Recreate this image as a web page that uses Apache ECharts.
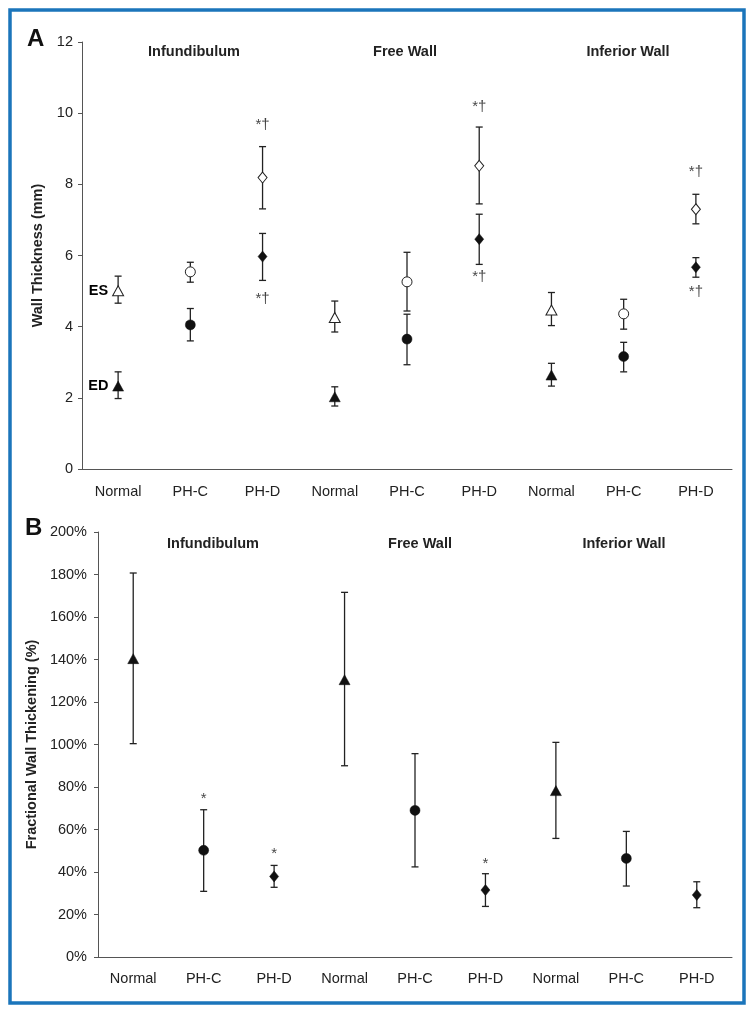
<!DOCTYPE html>
<html>
<head>
<meta charset="utf-8">
<script src="https://cdn.jsdelivr.net/npm/echarts@6/dist/echarts.min.js"></script>
<style>
html,body{margin:0;padding:0;background:#fff;}
#chart{width:756px;height:1015px;}
</style>
</head>
<body>
<div id="chart"></div>
<script>
// ---- data ----
const categories = ['Normal','PH-C','PH-D','Normal','PH-C','PH-D','Normal','PH-C','PH-D'];
const groupTitles = ['Infundibulum','Free Wall','Inferior Wall'];
const yTicksA = [0,2,4,6,8,10,12];
const yTicksB = [0,20,40,60,80,100,120,140,160,180,200];

// Panel A: wall thickness (mm)
const esMean = [5.01, 5.54, 8.19, 4.26, 5.26, 8.52, 4.47, 4.36, 7.30];
const esLow  = [4.66, 5.25, 7.31, 3.85, 4.44, 7.45, 4.03, 3.93, 6.89];
const esHigh = [5.42, 5.81, 9.06, 4.72, 6.09, 9.61, 4.96, 4.77, 7.72];
const edMean = [2.33, 4.05, 5.97, 2.03, 3.65, 6.46, 2.64, 3.16, 5.67];
const edLow  = [1.98, 3.60, 5.30, 1.77, 2.93, 5.75, 2.33, 2.73, 5.39];
const edHigh = [2.73, 4.51, 6.62, 2.31, 4.35, 7.16, 2.97, 3.56, 5.94];
const sigAboveA = [null, null, 9.67, null, null, 10.18, null, null, 8.36];
const sigBelowA = [null, null, 4.78, null, null, 5.39, null, null, 4.97];

// Panel B: fractional wall thickening (%)
const fwtMean = [140.4, 50.2, 37.9, 130.5, 69.0, 31.5, 78.3, 46.4, 29.2];
const fwtLow  = [100.4, 30.9, 32.8, 90.0, 42.4, 23.8, 55.8, 33.4, 23.2];
const fwtHigh = [180.7, 69.3, 43.1, 171.6, 95.7, 39.2, 101.0, 59.1, 35.4];
const sigB    = [null, 74.3, 48.6, null, null, 43.9, null, null, null];

// ---- chart ----
const FONT = '"Liberation Sans", Arial, sans-serif';
const symbolFor = {'Normal':'triangle','PH-C':'circle','PH-D':'diamond'};
const sizeFor = {'Normal':[11,10],'PH-C':[10,10],'PH-D':[9,11]};

function markerData(vals, extra) {
  return vals.map((v,i) => Object.assign({
    value:[i, v],
    symbol: symbolFor[categories[i]],
    symbolSize: sizeFor[categories[i]]
  }, extra ? extra(i) : {}));
}
function errData(lo, hi) {
  return lo.map((l,i) => [i, l, hi[i]]);
}
function errRender(params, api) {
  const x = api.value(0);
  const p1 = api.coord([x, api.value(1)]);
  const p2 = api.coord([x, api.value(2)]);
  const w = 3.5;
  const st = {stroke:'#222', lineWidth:1.3};
  return {type:'group', children:[
    {type:'line', shape:{x1:p1[0],y1:p1[1],x2:p2[0],y2:p2[1]}, style:st},
    {type:'line', shape:{x1:p1[0]-w,y1:p1[1],x2:p1[0]+w,y2:p1[1]}, style:st},
    {type:'line', shape:{x1:p2[0]-w,y1:p2[1],x2:p2[0]+w,y2:p2[1]}, style:st}
  ]};
}
function sigData(vals) {
  const out = [];
  vals.forEach((v,i) => { if (v != null) out.push([i, v]); });
  return out;
}
function sigSeries(vals, text, xi, yi) {
  return {
    type:'scatter', xAxisIndex:xi, yAxisIndex:yi, symbolSize:1,
    itemStyle:{color:'rgba(0,0,0,0)'},
    data: sigData(vals),
    label:{show:true, position:'inside', formatter:text, color:'#111',
      fontSize:15, fontFamily:FONT},
    silent:true, z:5
  };
}
const sideLabel = (t) => ({label:{show:true, position:'left', distance:4, formatter:t,
  fontWeight:'bold', fontSize:14.5, color:'#000', opacity:1, fontFamily:FONT}});

const xAxisCommon = {
  type:'category', data:categories, boundaryGap:true,
  axisLine:{lineStyle:{color:'#555', width:1}},
  axisTick:{show:false},
  axisLabel:{color:'#222', fontSize:14.5, fontFamily:FONT, interval:0},
  splitLine:{show:false}
};
const yAxisCommon = {
  type:'value',
  axisLine:{show:true, lineStyle:{color:'#555', width:1}},
  axisTick:{show:true, length:4, lineStyle:{color:'#555'}},
  splitLine:{show:false},
  nameLocation:'middle',
  nameTextStyle:{fontWeight:'bold', fontSize:14.5, color:'#222', fontFamily:FONT}
};

const titleText = (t, x, y) => ({
  type:'text', x:x, y:y,
  style:{text:t, font:'bold 14.5px ' + FONT, fill:'#222', align:'center', verticalAlign:'middle'}
});

const option = {
  animation:false,
  backgroundColor:'#fff',
  grid:[
    {left:82, right:24, top:42, height:427},
    {left:98, right:24, top:532, height:425}
  ],
  xAxis:[
    Object.assign({}, xAxisCommon, {gridIndex:0, axisLabel:Object.assign({}, xAxisCommon.axisLabel, {margin:15})}),
    Object.assign({}, xAxisCommon, {gridIndex:1, axisLabel:Object.assign({}, xAxisCommon.axisLabel, {margin:14})})
  ],
  yAxis:[
    Object.assign({}, yAxisCommon, {gridIndex:0, min:yTicksA[0], max:yTicksA[yTicksA.length-1], interval:2,
      name:'Wall Thickness (mm)', nameGap:34,
      axisLabel:{color:'#222', fontSize:14.5, fontFamily:FONT, margin:9}}),
    Object.assign({}, yAxisCommon, {gridIndex:1, min:yTicksB[0], max:yTicksB[yTicksB.length-1], interval:20,
      name:'Fractional Wall Thickening (%)', nameGap:50,
      axisLabel:{color:'#222', fontSize:14.5, fontFamily:FONT, margin:11, formatter:'{value}%'}})
  ],
  graphic:[
    {type:'rect', shape:{x:10, y:10, width:734, height:993},
      style:{fill:'none', stroke:'#1b75bb', lineWidth:3.5}, z:100},
    {type:'text', x:27, y:39, style:{text:'A', font:'bold 24px ' + FONT, fill:'#111', verticalAlign:'middle'}},
    {type:'text', x:25, y:528, style:{text:'B', font:'bold 24px ' + FONT, fill:'#111', verticalAlign:'middle'}},
    titleText(groupTitles[0], 194, 52),
    titleText(groupTitles[1], 405, 52),
    titleText(groupTitles[2], 628, 52),
    titleText(groupTitles[0], 213, 544),
    titleText(groupTitles[1], 420, 544),
    titleText(groupTitles[2], 624, 544)
  ],
  series:[
    // Panel A error bars
    {type:'custom', xAxisIndex:0, yAxisIndex:0, renderItem:errRender, data:errData(esLow, esHigh), z:2, silent:true},
    {type:'custom', xAxisIndex:0, yAxisIndex:0, renderItem:errRender, data:errData(edLow, edHigh), z:2, silent:true},
    // ES (open)
    {type:'scatter', xAxisIndex:0, yAxisIndex:0, z:3, silent:true,
      itemStyle:{color:'#fff', borderColor:'#222', borderWidth:1, opacity:1},
      data: markerData(esMean, i => i === 0 ? sideLabel('ES') : {})},
    // ED (filled)
    {type:'scatter', xAxisIndex:0, yAxisIndex:0, z:3, silent:true,
      itemStyle:{color:'#111', borderColor:'#111', borderWidth:0.5, opacity:1},
      data: markerData(edMean, i => i === 0 ? sideLabel('ED') : {})},
    sigSeries(sigAboveA, '*†', 0, 0),
    sigSeries(sigBelowA, '*†', 0, 0),
    // Panel B
    {type:'custom', xAxisIndex:1, yAxisIndex:1, renderItem:errRender, data:errData(fwtLow, fwtHigh), z:2, silent:true},
    {type:'scatter', xAxisIndex:1, yAxisIndex:1, z:3, silent:true,
      itemStyle:{color:'#111', borderColor:'#111', borderWidth:0.5, opacity:1},
      data: markerData(fwtMean)},
    sigSeries(sigB, '*', 1, 1)
  ]
};

const chart = echarts.init(document.getElementById('chart'), null, {renderer:'canvas'});
chart.setOption(option);
</script>
</body>
</html>
